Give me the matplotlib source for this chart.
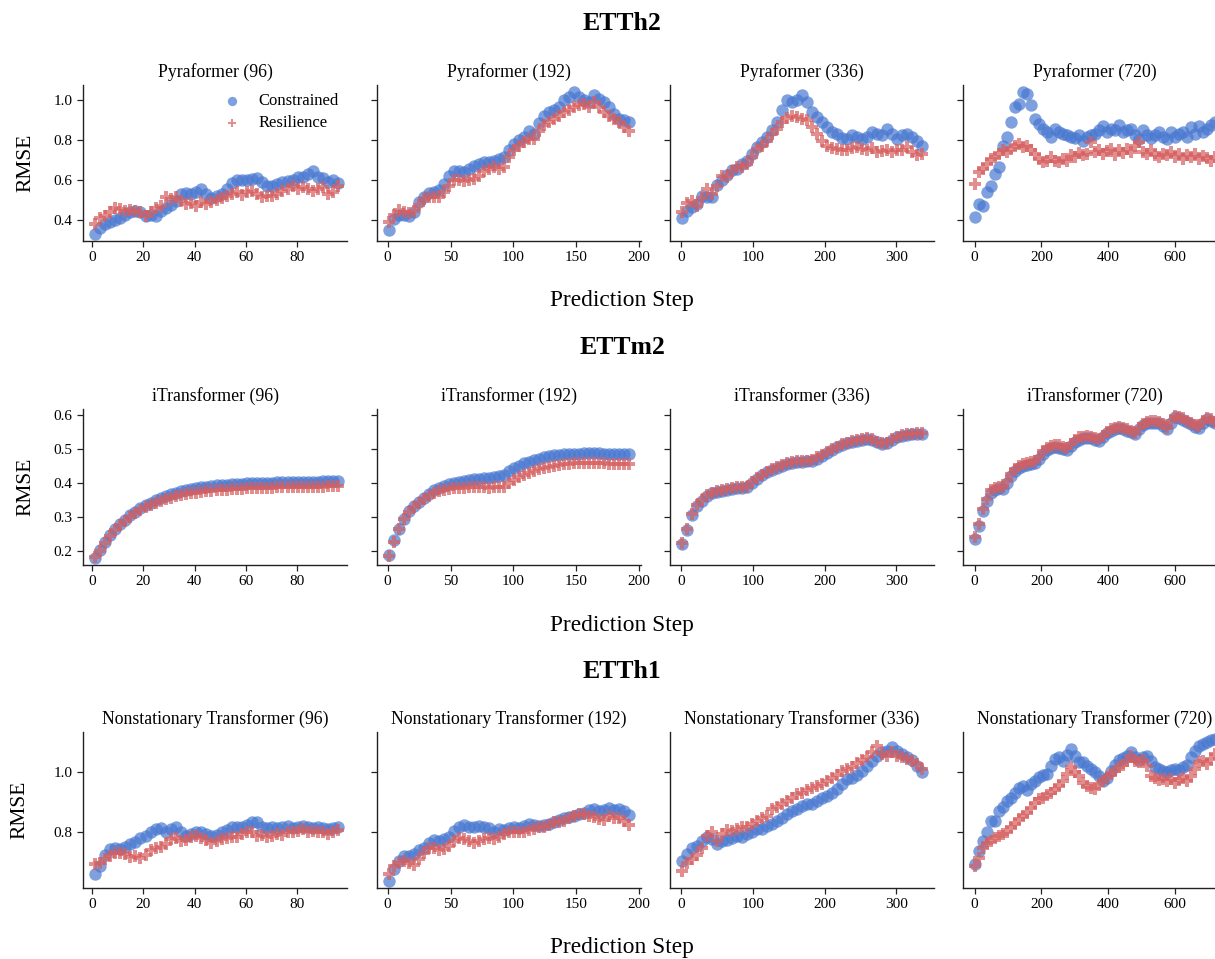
import numpy as np
import matplotlib
matplotlib.use("Agg")
import matplotlib.pyplot as plt
from matplotlib.ticker import MultipleLocator

plt.rcParams['font.family'] = ['Liberation Serif', 'DejaVu Serif']

horizons = [96, 192, 336, 720]
datasets = ['ETTh2', 'ETTm2', 'ETTh1']
models = ['Pyraformer', 'iTransformer', 'Nonstationary Transformer']

# ---- ETTh2 / Pyraformer ----
h2_c96 = [0.328, 0.36, 0.378, 0.387, 0.40, 0.41, 0.425, 0.437, 0.445, 0.437, 0.42, 0.425, 0.42,
          0.445, 0.46, 0.475, 0.495, 0.53, 0.535, 0.53, 0.54, 0.555, 0.53, 0.51, 0.52, 0.53,
          0.555, 0.583, 0.597, 0.60, 0.597, 0.605, 0.61, 0.588, 0.57, 0.57, 0.577, 0.588,
          0.593, 0.597, 0.613, 0.613, 0.63, 0.644, 0.613, 0.61, 0.588, 0.597, 0.583]
h2_r96 = [0.378, 0.41, 0.42, 0.437, 0.46, 0.455, 0.445, 0.45, 0.445, 0.437, 0.42, 0.437, 0.46,
          0.47, 0.515, 0.505, 0.513, 0.495, 0.48, 0.483, 0.47, 0.487, 0.48, 0.487, 0.50, 0.51,
          0.52, 0.53, 0.538, 0.526, 0.538, 0.543, 0.53, 0.513, 0.52, 0.52, 0.53, 0.543, 0.555,
          0.57, 0.555, 0.563, 0.555, 0.543, 0.555, 0.563, 0.53, 0.538, 0.57]
h2_c192 = [0.348, 0.403, 0.425, 0.425, 0.42, 0.437, 0.487, 0.513, 0.533, 0.538, 0.55, 0.58,
           0.622, 0.647, 0.647, 0.639, 0.655, 0.672, 0.68, 0.689, 0.689, 0.697, 0.706, 0.714,
           0.751, 0.781, 0.80, 0.818, 0.845, 0.832, 0.886, 0.924, 0.941, 0.95, 0.966, 1.0,
           1.017, 1.042, 1.017, 1.0, 0.992, 1.025, 1.008, 0.992, 0.966, 0.933, 0.908, 0.90, 0.891]
h2_r192 = [0.387, 0.425, 0.449, 0.437, 0.432, 0.445, 0.476, 0.504, 0.513, 0.516, 0.513, 0.538,
           0.571, 0.597, 0.60, 0.593, 0.597, 0.605, 0.622, 0.647, 0.655, 0.664, 0.655, 0.664,
           0.714, 0.751, 0.773, 0.79, 0.807, 0.807, 0.845, 0.874, 0.891, 0.908, 0.924, 0.941,
           0.95, 0.966, 0.975, 0.983, 0.966, 0.992, 0.966, 0.941, 0.924, 0.908, 0.891, 0.866, 0.845]
h2_c336 = [0.408, 0.445, 0.462, 0.479, 0.521, 0.516, 0.513, 0.576, 0.597, 0.627, 0.65, 0.655,
           0.68, 0.697, 0.731, 0.768, 0.79, 0.818, 0.849, 0.891, 0.95, 1.0, 0.992, 1.003, 1.025,
           0.992, 0.941, 0.916, 0.891, 0.866, 0.84, 0.829, 0.812, 0.807, 0.824, 0.815, 0.807,
           0.818, 0.84, 0.832, 0.824, 0.857, 0.829, 0.807, 0.824, 0.832, 0.815, 0.798, 0.773]
h2_r336 = [0.437, 0.482, 0.496, 0.471, 0.509, 0.555, 0.529, 0.571, 0.622, 0.613, 0.647, 0.664,
           0.667, 0.68, 0.714, 0.756, 0.773, 0.798, 0.832, 0.857, 0.891, 0.913, 0.924, 0.916,
           0.908, 0.899, 0.866, 0.832, 0.798, 0.773, 0.761, 0.756, 0.751, 0.748, 0.761, 0.768,
           0.756, 0.748, 0.761, 0.74, 0.745, 0.751, 0.74, 0.748, 0.751, 0.765, 0.74, 0.723, 0.731]
h2_c720 = [0.415, 0.479, 0.471, 0.538, 0.571, 0.63, 0.664, 0.773, 0.815, 0.891, 0.966, 0.983,
           1.042, 1.034, 0.975, 0.908, 0.882, 0.857, 0.84, 0.815, 0.857, 0.84, 0.832, 0.824,
           0.815, 0.812, 0.824, 0.798, 0.815, 0.824, 0.832, 0.849, 0.869, 0.84, 0.857, 0.849,
           0.874, 0.84, 0.849, 0.857, 0.824, 0.807, 0.849, 0.824, 0.812, 0.824, 0.84, 0.818,
           0.807, 0.84, 0.818, 0.829, 0.84, 0.815, 0.866, 0.832, 0.869, 0.84, 0.857, 0.874, 0.891]
h2_r720 = [0.58, 0.639, 0.655, 0.68, 0.706, 0.714, 0.731, 0.751, 0.74, 0.756, 0.773, 0.781,
           0.765, 0.773, 0.748, 0.731, 0.706, 0.689, 0.697, 0.714, 0.697, 0.689, 0.706, 0.697,
           0.723, 0.714, 0.734, 0.723, 0.731, 0.79, 0.74, 0.748, 0.731, 0.745, 0.756, 0.723,
           0.751, 0.734, 0.756, 0.74, 0.773, 0.79, 0.74, 0.731, 0.748, 0.723, 0.714, 0.731,
           0.723, 0.74, 0.714, 0.728, 0.706, 0.723, 0.714, 0.731, 0.706, 0.718, 0.711, 0.697, 0.714]

# ---- ETTm2 / iTransformer ----
m2_c96 = [0.180, 0.203, 0.228, 0.248, 0.265, 0.280, 0.293, 0.305, 0.316, 0.326, 0.335, 0.343,
          0.350, 0.356, 0.362, 0.367, 0.372, 0.376, 0.380, 0.383, 0.386, 0.388, 0.390, 0.392,
          0.394, 0.395, 0.396, 0.397, 0.398, 0.399, 0.400, 0.400, 0.401, 0.401, 0.402, 0.402,
          0.403, 0.403, 0.403, 0.404, 0.404, 0.404, 0.405, 0.405, 0.405, 0.406, 0.406, 0.406, 0.407]
m2_r96 = [0.182, 0.200, 0.225, 0.245, 0.262, 0.277, 0.290, 0.302, 0.312, 0.321, 0.329, 0.336,
          0.342, 0.348, 0.353, 0.357, 0.361, 0.364, 0.367, 0.370, 0.372, 0.374, 0.376, 0.377,
          0.379, 0.380, 0.381, 0.382, 0.383, 0.384, 0.385, 0.385, 0.386, 0.386, 0.387, 0.387,
          0.388, 0.388, 0.388, 0.389, 0.389, 0.389, 0.390, 0.390, 0.390, 0.390, 0.391, 0.391, 0.391]
m2_c192 = [0.188, 0.232, 0.266, 0.296, 0.317, 0.332, 0.344, 0.357, 0.369, 0.379, 0.386, 0.392,
           0.398, 0.402, 0.405, 0.408, 0.410, 0.412, 0.414, 0.415, 0.416, 0.418, 0.420, 0.425,
           0.435, 0.445, 0.452, 0.459, 0.463, 0.468, 0.472, 0.476, 0.479, 0.482, 0.484, 0.485,
           0.486, 0.487, 0.487, 0.488, 0.488, 0.488, 0.488, 0.487, 0.487, 0.487, 0.486, 0.486, 0.485]
m2_r192 = [0.185, 0.227, 0.266, 0.296, 0.315, 0.330, 0.341, 0.353, 0.363, 0.371, 0.376, 0.380,
           0.383, 0.385, 0.386, 0.387, 0.388, 0.388, 0.389, 0.388, 0.387, 0.388, 0.388, 0.390,
           0.400, 0.410, 0.418, 0.425, 0.431, 0.437, 0.441, 0.445, 0.449, 0.452, 0.455, 0.457,
           0.458, 0.459, 0.460, 0.460, 0.460, 0.460, 0.459, 0.459, 0.458, 0.458, 0.457, 0.457, 0.457]
m2_c336 = [0.222, 0.262, 0.306, 0.332, 0.349, 0.362, 0.370, 0.375, 0.378, 0.381, 0.384, 0.386,
           0.386, 0.388, 0.400, 0.413, 0.423, 0.432, 0.440, 0.445, 0.452, 0.457, 0.461, 0.464,
           0.464, 0.465, 0.466, 0.473, 0.481, 0.490, 0.498, 0.506, 0.513, 0.518, 0.523, 0.526,
           0.529, 0.531, 0.529, 0.522, 0.516, 0.518, 0.528, 0.535, 0.539, 0.542, 0.544, 0.546, 0.546]
m2_r336 = [0.224, 0.266, 0.310, 0.335, 0.351, 0.364, 0.372, 0.377, 0.380, 0.383, 0.386, 0.388,
           0.388, 0.390, 0.403, 0.416, 0.425, 0.434, 0.442, 0.447, 0.454, 0.459, 0.463, 0.466,
           0.466, 0.466, 0.468, 0.476, 0.484, 0.493, 0.500, 0.508, 0.515, 0.520, 0.525, 0.528,
           0.531, 0.533, 0.530, 0.523, 0.518, 0.520, 0.530, 0.537, 0.541, 0.544, 0.546, 0.547, 0.547]
m2_c720 = [0.236, 0.274, 0.318, 0.347, 0.372, 0.380, 0.385, 0.384, 0.402, 0.420, 0.435, 0.445,
           0.451, 0.453, 0.457, 0.461, 0.472, 0.487, 0.498, 0.503, 0.506, 0.505, 0.501, 0.499,
           0.509, 0.521, 0.529, 0.532, 0.534, 0.533, 0.529, 0.526, 0.535, 0.548, 0.555, 0.560,
           0.563, 0.560, 0.555, 0.550, 0.545, 0.560, 0.572, 0.577, 0.579, 0.579, 0.577, 0.570,
           0.560, 0.579, 0.594, 0.591, 0.587, 0.581, 0.574, 0.567, 0.564, 0.579, 0.589, 0.584, 0.577]
m2_r720 = [0.242, 0.281, 0.325, 0.354, 0.379, 0.386, 0.390, 0.388, 0.408, 0.427, 0.442, 0.452,
           0.457, 0.459, 0.462, 0.466, 0.478, 0.494, 0.505, 0.510, 0.513, 0.512, 0.507, 0.505,
           0.515, 0.527, 0.535, 0.537, 0.539, 0.537, 0.533, 0.530, 0.539, 0.552, 0.559, 0.564,
           0.567, 0.564, 0.559, 0.554, 0.549, 0.564, 0.576, 0.581, 0.583, 0.583, 0.581, 0.574,
           0.564, 0.583, 0.598, 0.595, 0.591, 0.585, 0.578, 0.571, 0.568, 0.583, 0.593, 0.588, 0.581]

# ---- ETTh1 / Nonstationary Transformer ----
h1_c96 = [0.658, 0.684, 0.721, 0.74, 0.746, 0.74, 0.748, 0.757, 0.766, 0.777, 0.785, 0.797,
          0.808, 0.811, 0.80, 0.808, 0.814, 0.80, 0.785, 0.791, 0.797, 0.797, 0.793, 0.785,
          0.789, 0.797, 0.805, 0.814, 0.816, 0.816, 0.823, 0.834, 0.831, 0.816, 0.811, 0.814,
          0.811, 0.816, 0.818, 0.811, 0.814, 0.818, 0.814, 0.811, 0.814, 0.811, 0.81, 0.811, 0.814]
h1_r96 = [0.689, 0.695, 0.706, 0.718, 0.729, 0.729, 0.723, 0.714, 0.718, 0.712, 0.721, 0.737,
          0.746, 0.748, 0.759, 0.774, 0.777, 0.768, 0.771, 0.78, 0.785, 0.777, 0.771, 0.763,
          0.768, 0.774, 0.777, 0.78, 0.782, 0.793, 0.80, 0.797, 0.785, 0.789, 0.78, 0.785,
          0.793, 0.789, 0.80, 0.797, 0.802, 0.808, 0.797, 0.802, 0.797, 0.80, 0.793, 0.80, 0.805]
h1_c192 = [0.633, 0.672, 0.70, 0.718, 0.718, 0.723, 0.737, 0.746, 0.763, 0.771, 0.768, 0.774,
           0.782, 0.802, 0.814, 0.823, 0.816, 0.816, 0.819, 0.816, 0.811, 0.80, 0.808, 0.805,
           0.811, 0.816, 0.811, 0.819, 0.827, 0.823, 0.819, 0.823, 0.825, 0.831, 0.838, 0.847,
           0.85, 0.853, 0.859, 0.864, 0.872, 0.876, 0.87, 0.872, 0.881, 0.872, 0.876, 0.87, 0.856]
h1_r192 = [0.655, 0.684, 0.695, 0.70, 0.695, 0.687, 0.706, 0.729, 0.746, 0.746, 0.737, 0.74,
           0.751, 0.768, 0.777, 0.774, 0.768, 0.763, 0.768, 0.774, 0.777, 0.774, 0.782, 0.791,
           0.80, 0.797, 0.80, 0.797, 0.805, 0.808, 0.814, 0.816, 0.823, 0.831, 0.834, 0.836,
           0.845, 0.853, 0.859, 0.859, 0.853, 0.85, 0.842, 0.838, 0.853, 0.847, 0.845, 0.836, 0.823]
h1_c336 = [0.70, 0.723, 0.746, 0.751, 0.768, 0.78, 0.774, 0.757, 0.768, 0.771, 0.777, 0.785,
           0.782, 0.791, 0.797, 0.808, 0.808, 0.819, 0.827, 0.836, 0.845, 0.859, 0.87, 0.876,
           0.887, 0.893, 0.895, 0.904, 0.913, 0.921, 0.929, 0.944, 0.96, 0.977, 0.983, 0.992,
           1.006, 1.023, 1.04, 1.056, 1.068, 1.073, 1.085, 1.073, 1.064, 1.053, 1.042, 1.023, 1.0]
h1_r336 = [0.667, 0.695, 0.706, 0.721, 0.746, 0.785, 0.797, 0.768, 0.791, 0.805, 0.802, 0.808,
           0.814, 0.816, 0.825, 0.836, 0.845, 0.853, 0.876, 0.884, 0.895, 0.904, 0.915, 0.927,
           0.932, 0.94, 0.947, 0.955, 0.96, 0.972, 0.981, 0.992, 1.006, 1.011, 1.017, 1.031,
           1.042, 1.053, 1.068, 1.09, 1.064, 1.056, 1.068, 1.056, 1.051, 1.045, 1.04, 1.028, 1.011]
h1_c720 = [0.689, 0.734, 0.768, 0.797, 0.836, 0.836, 0.87, 0.884, 0.904, 0.915, 0.932, 0.947,
           0.955, 0.94, 0.96, 0.972, 0.985, 0.992, 0.994, 1.023, 1.045, 1.053, 1.04, 1.06, 1.079,
           1.056, 1.034, 1.034, 1.023, 1.011, 1.003, 0.989, 0.972, 0.983, 1.006, 1.026, 1.042,
           1.049, 1.056, 1.068, 1.051, 1.042, 1.051, 1.056, 1.04, 1.019, 1.011, 1.006, 1.003,
           1.008, 1.011, 1.008, 1.017, 1.026, 1.051, 1.073, 1.09, 1.098, 1.102, 1.11, 1.113]
h1_r720 = [0.684, 0.712, 0.746, 0.763, 0.768, 0.777, 0.785, 0.791, 0.797, 0.814, 0.825, 0.842,
           0.853, 0.864, 0.881, 0.898, 0.91, 0.913, 0.924, 0.932, 0.944, 0.955, 0.972, 0.994,
           1.017, 1.0, 0.989, 0.966, 0.955, 0.947, 0.944, 0.96, 0.972, 0.985, 0.994, 1.006,
           1.017, 1.026, 1.04, 1.056, 1.04, 1.034, 1.042, 1.023, 0.989, 0.981, 0.974, 0.977,
           0.972, 0.977, 0.966, 0.974, 0.983, 0.972, 0.989, 1.011, 1.034, 1.04, 1.028, 1.045, 1.062]

constrained = [[h2_c96, h2_c192, h2_c336, h2_c720],
               [m2_c96, m2_c192, m2_c336, m2_c720],
               [h1_c96, h1_c192, h1_c336, h1_c720]]
resilience = [[h2_r96, h2_r192, h2_r336, h2_r720],
              [m2_r96, m2_r192, m2_r336, m2_r720],
              [h1_r96, h1_r192, h1_r336, h1_r720]]

blue = '#4878d0'
red = '#d65f5f'
W, H = 1215, 959

fig = plt.figure(figsize=(W / 100, H / 100), dpi=100)

col_left = [83, 377, 670, 963]
row_top = [85, 409, 732]
ax_w, ax_h = 264, 156
ystep = [0.2, 0.1, 0.2]
xstep = [20, 50, 100, 200]
xlims = [(-3.6, 99.4), (-8.5, 201.5), (-15.8, 352.8), (-35, 756)]

for r in range(3):
    first = None
    for c in range(4):
        rect = [col_left[c] / W, 1 - (row_top[r] + ax_h) / H, ax_w / W, ax_h / H]
        ax = fig.add_axes(rect, sharey=first)
        if first is None:
            first = ax
        yc = constrained[r][c]
        yr = resilience[r][c]
        steps = np.linspace(1, horizons[c], len(yc))
        ax.scatter(steps, yc, s=80, marker='o', color=blue, alpha=0.7,
                   linewidths=0, label='Constrained')
        ax.scatter(steps, yr, s=66, marker='P', color=red, alpha=0.7,
                   linewidths=0, label='Resilience')
        ax.set_xlim(*xlims[c])
        ax.set_title(f'{models[r]} ({horizons[c]})', fontsize=12.8, pad=6)
        ax.spines['top'].set_visible(False)
        ax.spines['right'].set_visible(False)
        for sp in ('left', 'bottom'):
            ax.spines[sp].set_color('#222222')
            ax.spines[sp].set_linewidth(1.0)
        ax.xaxis.set_major_locator(MultipleLocator(xstep[c]))
        ax.yaxis.set_major_locator(MultipleLocator(ystep[r]))
        ax.tick_params(labelsize=11, length=4, width=0.9, color='#222222')
        if c > 0:
            ax.tick_params(labelleft=False)
        if r == 0 and c == 0:
            ax.legend(loc='upper right', frameon=False, fontsize=12, markerscale=0.75,
                      handletextpad=0.6, borderaxespad=0.1, labelspacing=0.35)

# row titles, shared x labels and y labels
title_y = [24, 348, 672]
xlabel_y = [300, 625, 948]
for r in range(3):
    fig.text(622 / W, 1 - title_y[r] / H, datasets[r], ha='center', va='center',
             fontsize=18.5, fontweight='bold')
    fig.text(622 / W, 1 - xlabel_y[r] / H, 'Prediction Step', ha='center', va='center',
             fontsize=16.8)
    fig.text((26 if r < 2 else 20) / W, 1 - (row_top[r] + ax_h / 2) / H, 'RMSE',
             ha='center', va='center', rotation=90, fontsize=15.5)

fig.savefig('out.png', dpi=100)
